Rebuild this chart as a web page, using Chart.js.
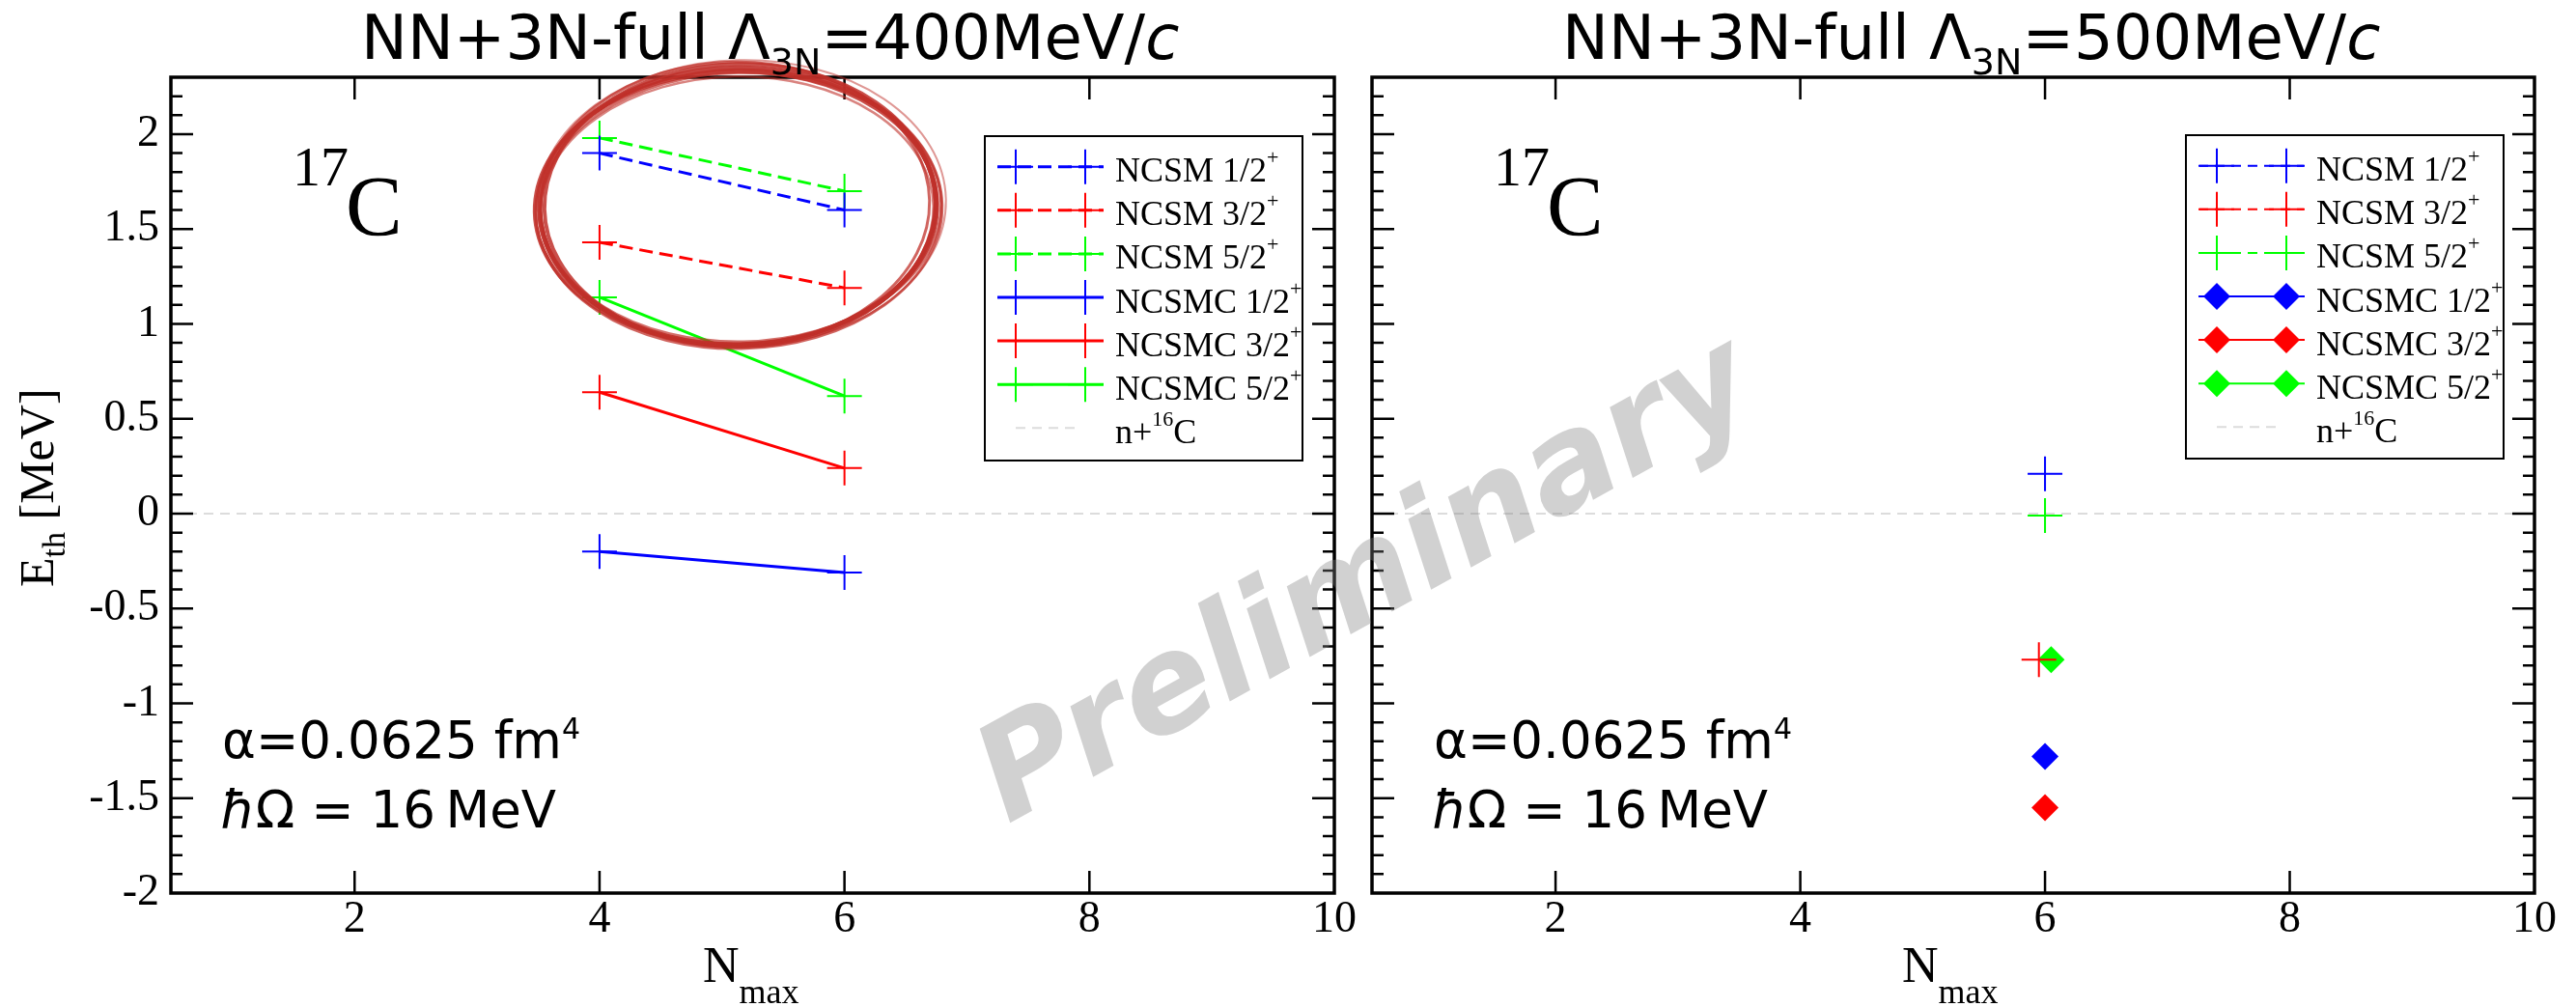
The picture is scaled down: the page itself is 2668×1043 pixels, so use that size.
<!DOCTYPE html>
<html>
<head>
<meta charset="utf-8">
<title>17C threshold energies</title>
<script src="https://cdn.jsdelivr.net/npm/chart.js@4.4.1/dist/chart.umd.min.js"></script>
<style>
  html, body { margin: 0; padding: 0; background: #fff; }
  #page { position: relative; width: 2668px; height: 1043px; overflow: hidden; background: #fff; }
  #page canvas { position: absolute; left: 0; top: 0; }
  .txt { position: absolute; white-space: nowrap; color: #000; line-height: 1.2; }
  .txt span { line-height: 0; }
  #stamp {
    position: absolute; white-space: nowrap; line-height: 1;
    font-family: "DejaVu Sans", sans-serif; font-weight: bold; font-style: italic;
    color: rgba(128, 128, 128, 0.36);
  }
</style>
</head>
<body>
<div id="page">
  <canvas id="left" width="2668" height="1043"></canvas>
  <canvas id="right" width="2668" height="1043"></canvas>
</div>
<script>
// N_max grid and tick labels
const xTicks = [2, 4, 6, 8, 10];
const yTicks = [-2, -1.5, -1, -0.5, 0, 0.5, 1, 1.5, 2];

const seriesNames = ['NCSM 1/2', 'NCSM 3/2', 'NCSM 5/2', 'NCSMC 1/2', 'NCSMC 3/2', 'NCSMC 5/2'];
const spinColors = ['#0000ff', '#ff0000', '#00ff00'];

// Lambda_3N = 400 MeV/c, E_th [MeV] at Nmax = 4, 6
const nmaxL = [4, 6];
const ncsm12L = [1.90, 1.60];
const ncsm32L = [1.43, 1.19];
const ncsm52L = [1.98, 1.70];
const ncsmc12L = [-0.20, -0.31];
const ncsmc32L = [0.64, 0.24];
const ncsmc52L = [1.14, 0.62];

// Lambda_3N = 500 MeV/c, only Nmax = 6 (two points nudged apart so they do not overlap)
const nmaxR = [6, 5.95, 6, 6, 6, 6.05];
const ethR = [0.21, -0.77, -0.01, -1.28, -1.55, -0.77];

// n + 16C threshold
const thresholdX = [0.5, 10];
const thresholdY = [0, 0];

function thresholdSet() {
  return {
    label: 'n+16C',
    legendText: [{ t: 'n+' }, { t: '16', sup: true }, { t: 'C' }],
    data: thresholdX.map((x, k) => ({ x, y: thresholdY[k] })),
    showLine: true,
    borderColor: '#dcdcdc',
    backgroundColor: '#dcdcdc',
    borderWidth: 2,
    borderDash: [10, 7],
    pointRadius: 0,
    order: 10
  };
}

const leftSeries = [ncsm12L, ncsm32L, ncsm52L, ncsmc12L, ncsmc32L, ncsmc52L];
const leftSets = leftSeries.map((ys, i) => ({
  label: seriesNames[i],
  legendText: [{ t: seriesNames[i] }, { t: '+', sup: true }],
  data: ys.map((y, k) => ({ x: nmaxL[k], y })),
  showLine: true,
  borderColor: spinColors[i % 3],
  backgroundColor: spinColors[i % 3],
  borderWidth: 3,
  borderDash: i < 3 ? [14, 7] : [],
  pointStyle: 'cross',
  pointRadius: 18,
  pointHoverRadius: 18,
  pointBorderWidth: 2
}));
leftSets.push(thresholdSet());

const rightSets = seriesNames.map((name, i) => ({
  label: name,
  legendText: [{ t: name }, { t: '+', sup: true }],
  data: [{ x: nmaxR[i], y: ethR[i] }],
  showLine: true,
  borderColor: spinColors[i % 3],
  backgroundColor: spinColors[i % 3],
  borderWidth: 2,
  borderDash: i < 3 ? [10, 7] : [],
  pointStyle: i < 3 ? 'cross' : 'rectRot',
  pointRadius: i < 3 ? 18 : 14,
  pointHoverRadius: i < 3 ? 18 : 14,
  pointBorderWidth: i < 3 ? 2 : 0
}));
rightSets.push(thresholdSet());

// frame with inward ticks on all four sides
const framePlugin = {
  id: 'frameTicks',
  afterDatasetsDraw(chart, args, o) {
    const { ctx, chartArea: a, scales: { x, y } } = chart;
    ctx.save();
    ctx.strokeStyle = '#000';
    ctx.setLineDash([]);
    ctx.lineWidth = 2.5;
    ctx.beginPath();
    xTicks.forEach(v => {
      if (v <= x.min || v >= x.max) return;
      const px = x.getPixelForValue(v);
      ctx.moveTo(px, a.bottom); ctx.lineTo(px, a.bottom - o.major);
      ctx.moveTo(px, a.top); ctx.lineTo(px, a.top + o.major);
    });
    const n0 = Math.ceil(y.min / o.minorStep - 1e-6);
    const n1 = Math.floor(y.max / o.minorStep + 1e-6);
    for (let k = n0; k <= n1; k++) {
      const v = k * o.minorStep;
      if (v <= y.min + 1e-6 || v >= y.max - 1e-6) continue;
      const len = k % 5 === 0 ? o.major : o.minor;
      const py = y.getPixelForValue(v);
      ctx.moveTo(a.left, py); ctx.lineTo(a.left + len, py);
      ctx.moveTo(a.right, py); ctx.lineTo(a.right - len, py);
    }
    ctx.stroke();
    ctx.lineWidth = 3.5;
    ctx.strokeRect(a.left, a.top, a.right - a.left, a.bottom - a.top);
    ctx.restore();
  }
};

function marker(ctx, ds, x, y) {
  const opts = { pointStyle: ds.pointStyle, radius: ds.pointRadius, rotation: 0, borderWidth: ds.pointBorderWidth };
  ctx.lineWidth = ds.pointBorderWidth;
  ctx.strokeStyle = ds.borderColor;
  ctx.fillStyle = ds.backgroundColor;
  if (Chart.helpers && Chart.helpers.drawPoint) {
    Chart.helpers.drawPoint(ctx, opts, x, y);
    return;
  }
  const r = ds.pointRadius;
  ctx.beginPath();
  if (ds.pointStyle === 'rectRot') {
    ctx.moveTo(x - r, y); ctx.lineTo(x, y - r); ctx.lineTo(x + r, y); ctx.lineTo(x, y + r);
    ctx.closePath(); ctx.fill();
  } else {
    ctx.moveTo(x - r, y); ctx.lineTo(x + r, y);
    ctx.moveTo(x, y - r); ctx.lineTo(x, y + r);
    ctx.stroke();
  }
}

// boxed legend: line sample with a marker at each end, label with superscripts
const legendPlugin = {
  id: 'boxLegend',
  afterDraw(chart, args, o) {
    const ctx = chart.ctx;
    ctx.save();
    ctx.fillStyle = '#fff';
    ctx.fillRect(o.left, o.top, o.right - o.left, o.bottom - o.top);
    ctx.strokeStyle = '#000';
    ctx.lineWidth = 2;
    ctx.setLineDash([]);
    ctx.strokeRect(o.left, o.top, o.right - o.left, o.bottom - o.top);

    chart.data.datasets.forEach((ds, i) => {
      const y = o.rowY + i * o.rowStep;
      ctx.save();
      ctx.strokeStyle = ds.borderColor;
      ctx.lineWidth = ds.borderWidth;
      ctx.setLineDash(ds.borderDash || []);
      ctx.beginPath();
      if (ds.pointRadius > 0) {
        ctx.moveTo(o.lineX[0], y); ctx.lineTo(o.lineX[1], y);
      } else {
        ctx.moveTo(o.markX[0], y); ctx.lineTo(o.markX[1] - 6, y);
      }
      ctx.stroke();
      ctx.setLineDash([]);
      if (ds.pointRadius > 0) o.markX.forEach(mx => marker(ctx, ds, mx, y));
      ctx.restore();

      let tx = o.textX;
      const base = y + o.baseShift;
      ctx.fillStyle = '#000';
      ctx.textBaseline = 'alphabetic';
      ds.legendText.forEach(part => {
        ctx.font = (part.sup ? o.supSize : o.fontSize) + 'px "Liberation Serif", serif';
        ctx.fillText(part.t, tx, part.sup ? base - o.supRaise : base);
        tx += ctx.measureText(part.t).width;
      });
    });
    ctx.restore();
  }
};

// hand-drawn ring round the NCSM levels
const ringPlugin = {
  id: 'ring',
  afterDraw(chart, args, o) {
    if (!o.show) return;
    const { ctx, scales: { x, y } } = chart;
    const cx = x.getPixelForValue(o.cx);
    const cy = y.getPixelForValue(o.cy);
    const rx = Math.abs(x.getPixelForValue(o.cx + o.hw) - cx);
    const ry = Math.abs(y.getPixelForValue(o.cy + o.hh) - cy);
    ctx.save();
    ctx.strokeStyle = o.color;
    o.strokes.forEach(([dx, dy, drx, dry, lw, alpha]) => {
      ctx.globalAlpha = alpha;
      ctx.lineWidth = lw;
      ctx.beginPath();
      ctx.ellipse(cx + dx, cy + dy, rx + drx, ry + dry, o.tilt, 0, Math.PI * 2);
      ctx.stroke();
    });
    ctx.restore();
  }
};

function panelOptions(cfg) {
  return {
    responsive: false,
    animation: false,
    events: [],
    layout: { padding: cfg.padding },
    plugins: {
      legend: { display: false },
      tooltip: { enabled: false },
      frameTicks: { major: 23, minor: 12, minorStep: 0.1 },
      boxLegend: cfg.legend,
      ring: cfg.ring || { show: false }
    },
    scales: {
      x: {
        type: 'linear',
        position: 'bottom',
        min: 0.5,
        max: 10,
        afterBuildTicks: s => { s.ticks = xTicks.map(v => ({ value: v })); },
        afterFit: s => { s.height = 118; },
        grid: { display: false, drawTicks: false },
        border: { display: false },
        ticks: {
          color: '#000',
          padding: 0,
          maxRotation: 0,
          font: { family: '"Liberation Serif", serif', size: 46 },
          callback: v => String(v)
        }
      },
      y: {
        type: 'linear',
        min: -2,
        max: 2.3,
        afterBuildTicks: s => { s.ticks = yTicks.map(v => ({ value: v })); },
        afterFit: s => { s.width = cfg.yWidth; },
        grid: { display: false, drawTicks: false },
        border: { display: false },
        ticks: {
          display: cfg.yLabels,
          color: '#000',
          padding: 12,
          font: { family: '"Liberation Serif", serif', size: 46 },
          callback: v => String(v)
        }
      }
    }
  };
}

const legendCommon = { fontSize: 36, supSize: 22, supRaise: 18, baseShift: 15.5, rowStep: 45.1 };

new Chart(document.getElementById('left'), {
  type: 'scatter',
  data: { datasets: leftSets },
  options: panelOptions({
    padding: { left: 0, right: 1286, top: 80, bottom: 0 },
    yWidth: 177,
    yLabels: true,
    legend: Object.assign({
      left: 1020, top: 141, right: 1349, bottom: 477,
      lineX: [1033, 1143], markX: [1052, 1124], textX: 1155, rowY: 172.7
    }, legendCommon),
    ring: {
      show: true,
      cx: 5.13, cy: 1.62, hw: 1.62, hh: 0.73, tilt: -0.02,
      color: '#c0302a',
      strokes: [
        [0, 0, 0, 0, 5, 0.9],
        [-2, 2, 3, -2, 4, 0.85],
        [2, -1, -3, 3, 4, 0.85],
        [1, 3, 5, 1, 3, 0.75],
        [-3, -2, -4, 4, 3, 0.75],
        [3, 1, 2, -4, 3, 0.7],
        [-1, 4, -2, -5, 2.5, 0.6],
        [4, -3, 6, 5, 2, 0.5]
      ]
    }
  }),
  plugins: [framePlugin, legendPlugin, ringPlugin]
});

new Chart(document.getElementById('right'), {
  type: 'scatter',
  data: { datasets: rightSets },
  options: panelOptions({
    padding: { left: 1421, right: 43, top: 80, bottom: 0 },
    yWidth: 0,
    yLabels: false,
    legend: Object.assign({
      left: 2264, top: 140, right: 2593, bottom: 475,
      lineX: [2277, 2387], markX: [2296, 2368], textX: 2399, rowY: 171.7
    }, legendCommon)
  }),
  plugins: [framePlugin, legendPlugin]
});

// text placed by its baseline
const page = document.getElementById('page');
function addText(html, x, baseline, family, size) {
  const el = document.createElement('div');
  el.className = 'txt';
  const sans = family === 'sans';
  el.style.fontFamily = sans ? '"DejaVu Sans", sans-serif' : '"Liberation Serif", serif';
  el.style.fontSize = size + 'px';
  el.style.left = x + 'px';
  el.style.top = (baseline - (sans ? 0.946 : 0.9375) * size) + 'px';
  el.innerHTML = html;
  page.appendChild(el);
  return el;
}

const sub = (t, size, drop) => `<span style="font-size:${size}px;vertical-align:-${drop}px">${t}</span>`;
const sup = (t, size, rise) => `<span style="font-size:${size}px;vertical-align:${rise}px">${t}</span>`;

addText('NN+3N-full Λ' + sub('3N', 38, 16) + '=400MeV/<i>c</i>', 374, 62, 'sans', 64);
addText('NN+3N-full Λ' + sub('3N', 38, 16) + '=500MeV/<i>c</i>', 1618, 62, 'sans', 64);

[[303, 358], [1547, 1602]].forEach(([x17, xc]) => {
  addText('17', x17, 192, 'serif', 58);
  addText('C', xc, 243, 'serif', 88);
});

[230, 1485].forEach(x0 => {
  addText('α=0.0625 fm' + sup('4', 30, 20), x0, 785, 'sans', 53);
  addText('<i>ħ</i>Ω = 16\u202FMeV', x0 - 2, 857, 'sans', 53);
});

[728, 1970].forEach(x0 => {
  addText('N' + sub('max', 36, 22), x0, 1018, 'serif', 52);
});

// rotated y axis title
const yTitle = addText('E' + sub('th', 34, 12) + ' [MeV]', 0, 0, 'serif', 50);
const yw = yTitle.offsetWidth;
yTitle.style.transformOrigin = '0 0';
yTitle.style.transform = 'rotate(-90deg)';
yTitle.style.left = (55 - 0.9375 * 50) + 'px';
yTitle.style.top = (505 + yw / 2) + 'px';

// watermark over both panels
const stamp = document.createElement('div');
stamp.id = 'stamp';
stamp.textContent = 'Preliminary';
stamp.style.fontSize = '138px';
page.appendChild(stamp);
stamp.style.left = (1412 - stamp.offsetWidth / 2) + 'px';
stamp.style.top = (596 - stamp.offsetHeight / 2) + 'px';
stamp.style.transform = 'rotate(-29deg)';
</script>
</body>
</html>
